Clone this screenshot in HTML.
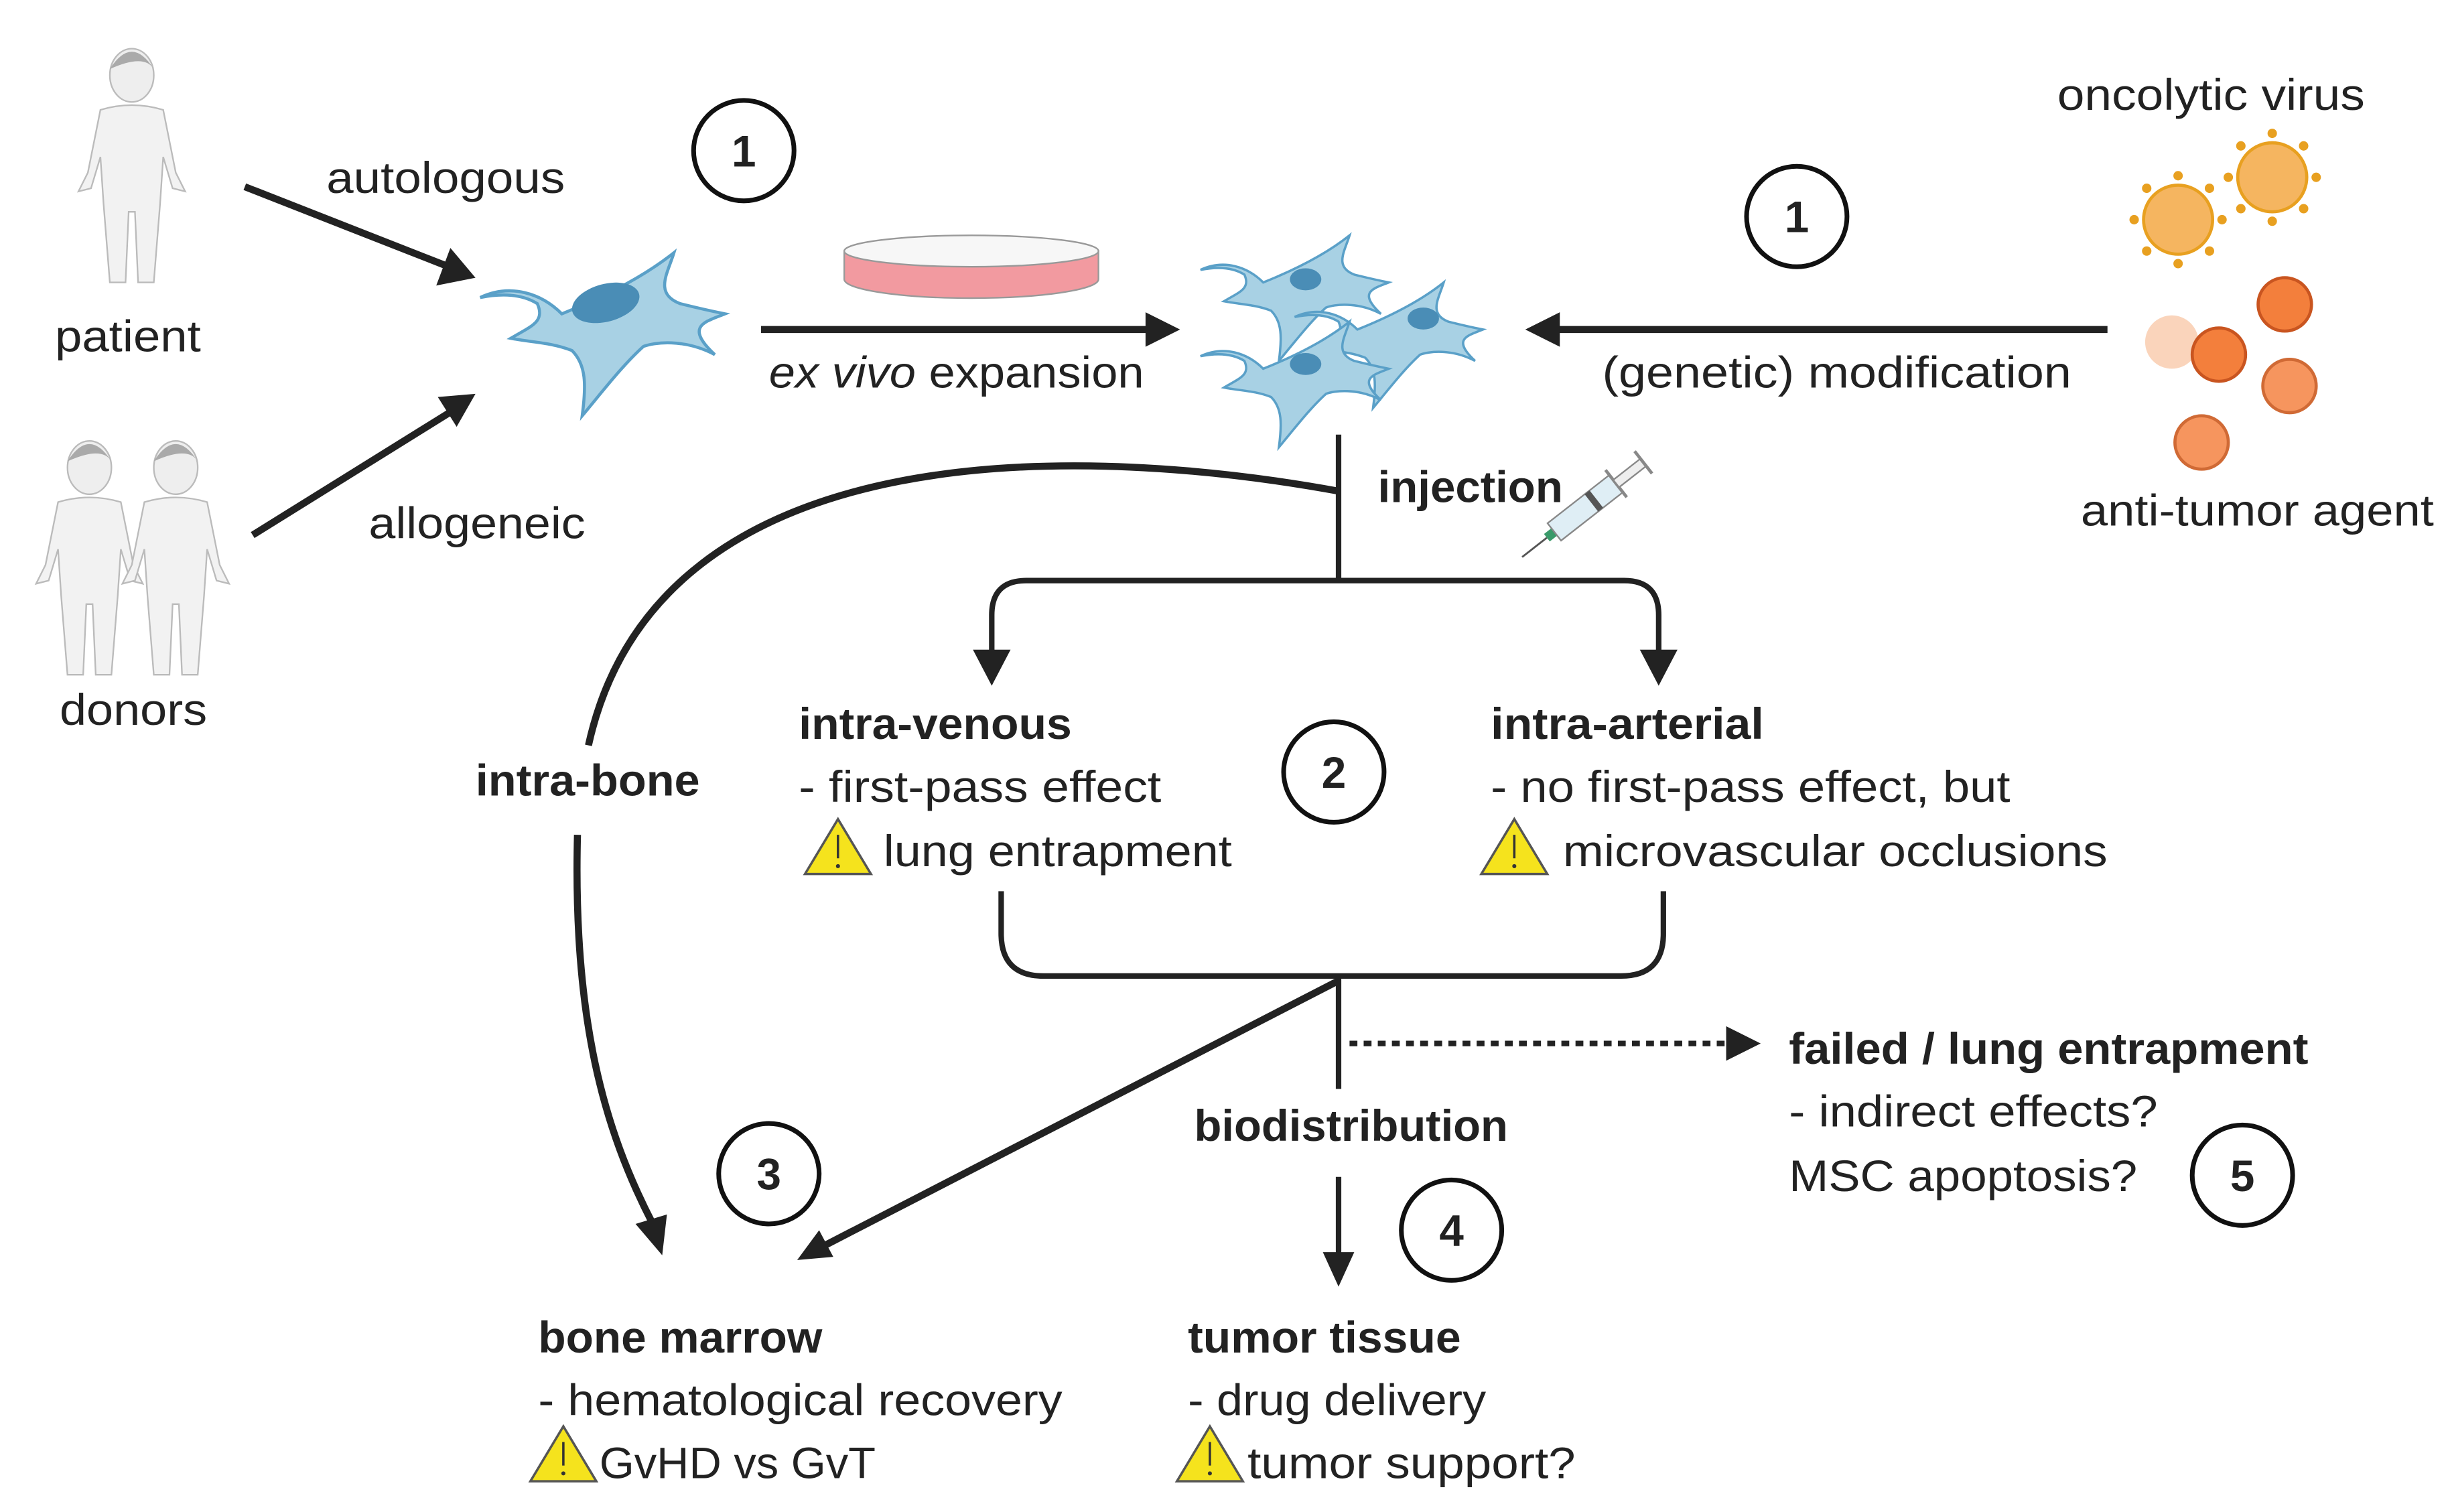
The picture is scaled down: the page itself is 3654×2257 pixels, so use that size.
<!DOCTYPE html>
<html><head><meta charset="utf-8"><style>
html,body{margin:0;padding:0;background:#fff}
svg{display:block}
text{font-family:"Liberation Sans",sans-serif;fill:#222;font-size:28px}
.b{font-weight:bold}
</style></head><body>
<svg width="3654" height="2257" viewBox="0 0 1560 963.6" preserveAspectRatio="none" xmlns="http://www.w3.org/2000/svg">
<defs>
<g id="warn"><polygon points="21,0 42,35 0,35" fill="#f5e31d" stroke="#555" stroke-width="1.5"/><line x1="21" y1="10" x2="21" y2="25" stroke="#333" stroke-width="1.5"/><circle cx="21" cy="30" r="1.3" fill="#333"/></g>
<g id="cell"><path d="M0,0 C20,-8 40,-18 55,-30 C52,-20 45,-10 58,-5 C70,-2 80,0 80,0 C70,4 60,6 75,20 C60,12 45,14 40,16 C30,25 20,38 10,50 C12,35 12,25 5,18 C-5,14 -15,14 -25,12 C-15,6 -8,4 -12,-5 C-20,-10 -30,-10 -40,-8 C-25,-15 -10,-10 0,0 Z" fill="#a8d1e4" stroke="#5aa0c8" stroke-width="1.5"/></g>
<g id="kid"><ellipse cx="0" cy="-62" rx="14" ry="17" fill="#eee" stroke="#bbb"/><path d="M-14,-66 Q0,-88 14,-66 Q8,-76 -14,-66Z" fill="#aaa"/><path d="M-20,-40 Q0,-46 20,-40 L28,0 L34,12 L26,10 L20,-10 L18,20 L14,70 L4,70 L2,25 L-2,25 L-4,70 L-14,70 L-18,20 L-20,-10 L-26,10 L-34,12 L-28,0 Z" fill="#f2f2f2" stroke="#bbb"/></g>
</defs>

<use href="#kid" x="84" y="110"/>
<use href="#kid" x="57" y="360"/>
<use href="#kid" x="112" y="360"/>
<text x="35" y="224" textLength="93" lengthAdjust="spacingAndGlyphs">patient</text>
<text x="38" y="462" textLength="94" lengthAdjust="spacingAndGlyphs">donors</text>
<text x="208" y="123" textLength="152" lengthAdjust="spacingAndGlyphs">autologous</text>
<text x="235" y="343" textLength="138" lengthAdjust="spacingAndGlyphs">allogeneic</text>

<g stroke="#222" stroke-width="4.5" fill="none">
<line x1="156" y1="119" x2="286" y2="170"/>
<line x1="161" y1="341" x2="288" y2="262"/>
<line x1="485" y1="210" x2="735" y2="210"/>
<line x1="1343" y1="210" x2="990" y2="210"/>
<path d="M853,313 C700,285 420,270 375,475"/>
<path d="M368,532 C365,650 385,720 416,780"/>
<line x1="853" y1="625" x2="525" y2="794"/>
</g>
<g fill="#222">
<polygon points="303,177 278,182 287,158"/>
<polygon points="303,251 291,272 279,253"/>
<polygon points="752,210 730,199 730,221"/>
<polygon points="972,210 994,199 994,221"/>
<polygon points="422,800 405,780 425,774"/>
<polygon points="508,803 522,784 531,801"/>
<polygon points="632,437 620,414 644,414"/>
<polygon points="1057,437 1045,414 1069,414"/>
<polygon points="853,820 843,798 863,798"/>
<polygon points="1122,665 1100,654 1100,676"/>
</g>
<g stroke="#222" stroke-width="3.5" fill="none">
<line x1="853" y1="277" x2="853" y2="370"/>
<path d="M632,416 L632,392 Q632,370 654,370 L1035,370 Q1057,370 1057,392 L1057,416"/>
<path d="M638,568 L638,595 Q638,622 665,622 L1033,622 Q1060,622 1060,595 L1060,568"/>
<line x1="853" y1="622" x2="853" y2="694"/>
<line x1="853" y1="750" x2="853" y2="800"/>
<line x1="860" y1="665" x2="1100" y2="665" stroke-dasharray="5,4"/>
</g>

<g transform="translate(358,200) scale(1.3)"><use href="#cell" x="0" y="0"/></g>
<ellipse cx="386" cy="193" rx="22" ry="12" fill="#4a8db6" transform="rotate(-15 386 193)"/>
<use href="#cell" x="805" y="180"/>
<use href="#cell" x="865" y="210"/>
<use href="#cell" x="805" y="235"/>
<ellipse cx="832" cy="178" rx="10" ry="7" fill="#4a8db6"/>
<ellipse cx="907" cy="203" rx="10" ry="7" fill="#4a8db6"/>
<ellipse cx="832" cy="232" rx="10" ry="7" fill="#4a8db6"/>

<path d="M538,160 L538,178 A81,12 0 0 0 700,178 L700,160 Z" fill="#f29aa0" stroke="#999"/>
<ellipse cx="619" cy="160" rx="81" ry="10" fill="#f7f7f7" stroke="#999"/>

<g fill="none" stroke="#111" stroke-width="3">
<circle cx="474" cy="96" r="32"/><circle cx="1145" cy="138" r="32"/><circle cx="850" cy="492" r="32"/>
<circle cx="490" cy="748" r="32"/><circle cx="925" cy="784" r="32"/><circle cx="1429" cy="749" r="32"/>
</g>
<g class="b" text-anchor="middle">
<text x="474" y="106" class="b">1</text><text x="1145" y="148" class="b">1</text><text x="850" y="502" class="b">2</text>
<text x="490" y="758" class="b">3</text><text x="925" y="794" class="b">4</text><text x="1429" y="759" class="b">5</text>
</g>

<text x="490" y="247" textLength="239" lengthAdjust="spacingAndGlyphs"><tspan font-style="italic">ex vivo</tspan> expansion</text>
<text x="1021" y="247" textLength="299" lengthAdjust="spacingAndGlyphs">(genetic) modification</text>
<text x="1311" y="70" textLength="196" lengthAdjust="spacingAndGlyphs">oncolytic virus</text>
<text x="1326" y="335" textLength="225" lengthAdjust="spacingAndGlyphs">anti-tumor agent</text>
<text x="878" y="320" class="b" textLength="118" lengthAdjust="spacingAndGlyphs">injection</text>

<g stroke="#e8a020" stroke-width="2">
<circle cx="1388" cy="140" r="22" fill="#f5b560"/>
<circle cx="1448" cy="113" r="22" fill="#f5b560"/>
<g fill="#e8a020">
<circle cx="1388" cy="112" r="2"/><circle cx="1388" cy="168" r="2"/><circle cx="1360" cy="140" r="2"/><circle cx="1416" cy="140" r="2"/>
<circle cx="1368" cy="120" r="2"/><circle cx="1408" cy="160" r="2"/><circle cx="1368" cy="160" r="2"/><circle cx="1408" cy="120" r="2"/>
<circle cx="1448" cy="85" r="2"/><circle cx="1448" cy="141" r="2"/><circle cx="1420" cy="113" r="2"/><circle cx="1476" cy="113" r="2"/>
<circle cx="1428" cy="93" r="2"/><circle cx="1468" cy="133" r="2"/><circle cx="1428" cy="133" r="2"/><circle cx="1468" cy="93" r="2"/>
</g></g>
<circle cx="1384" cy="218" r="17" fill="#fad4bb"/>
<circle cx="1414" cy="226" r="17" fill="#f37f3c" stroke="#c95520" stroke-width="2"/>
<circle cx="1456" cy="194" r="17" fill="#f37f3c" stroke="#c95520" stroke-width="2"/>
<circle cx="1459" cy="246" r="17" fill="#f6955e" stroke="#d06a35" stroke-width="2"/>
<circle cx="1403" cy="282" r="17" fill="#f6955e" stroke="#d06a35" stroke-width="2"/>

<g transform="translate(970,355) rotate(-38)">
<line x1="0" y1="0" x2="20" y2="0" stroke="#555" stroke-width="1.2"/>
<rect x="20" y="-3" width="6" height="6" fill="#3a9a6a"/>
<rect x="26" y="-7" width="50" height="14" fill="#dfeef5" stroke="#888"/>
<rect x="56" y="-7" width="4" height="14" fill="#555"/>
<line x1="76" y1="-11" x2="76" y2="11" stroke="#888" stroke-width="2"/>
<rect x="76" y="-3" width="22" height="6" fill="#eee" stroke="#888"/>
<line x1="98" y1="-9" x2="98" y2="9" stroke="#888" stroke-width="2"/>
</g>

<text x="509" y="471" class="b" textLength="174" lengthAdjust="spacingAndGlyphs">intra-venous</text>
<text x="509" y="511" textLength="231" lengthAdjust="spacingAndGlyphs">- first-pass effect</text>
<use href="#warn" x="513" y="522"/>
<text x="563" y="552" textLength="222" lengthAdjust="spacingAndGlyphs">lung entrapment</text>
<text x="950" y="471" class="b" textLength="174" lengthAdjust="spacingAndGlyphs">intra-arterial</text>
<text x="950" y="511" textLength="331" lengthAdjust="spacingAndGlyphs">- no first-pass effect, but</text>
<use href="#warn" x="944" y="522"/>
<text x="996" y="552" textLength="347" lengthAdjust="spacingAndGlyphs">microvascular occlusions</text>
<text x="303" y="507" class="b" textLength="143" lengthAdjust="spacingAndGlyphs">intra-bone</text>

<text x="1140" y="678" class="b" textLength="331" lengthAdjust="spacingAndGlyphs">failed / lung entrapment</text>
<text x="1140" y="718" textLength="235" lengthAdjust="spacingAndGlyphs">- indirect effects?</text>
<text x="1140" y="759" textLength="222" lengthAdjust="spacingAndGlyphs">MSC apoptosis?</text>
<text x="761" y="727" class="b" textLength="200" lengthAdjust="spacingAndGlyphs">biodistribution</text>

<text x="343" y="862" class="b" textLength="181" lengthAdjust="spacingAndGlyphs">bone marrow</text>
<text x="343" y="902" textLength="334" lengthAdjust="spacingAndGlyphs">- hematological recovery</text>
<use href="#warn" x="338" y="909"/>
<text x="382" y="942" textLength="176" lengthAdjust="spacingAndGlyphs">GvHD vs GvT</text>
<text x="757" y="862" class="b" textLength="174" lengthAdjust="spacingAndGlyphs">tumor tissue</text>
<text x="757" y="902" textLength="190" lengthAdjust="spacingAndGlyphs">- drug delivery</text>
<use href="#warn" x="750" y="909"/>
<text x="795" y="942" textLength="209" lengthAdjust="spacingAndGlyphs">tumor support?</text>
</svg>
</body></html>
